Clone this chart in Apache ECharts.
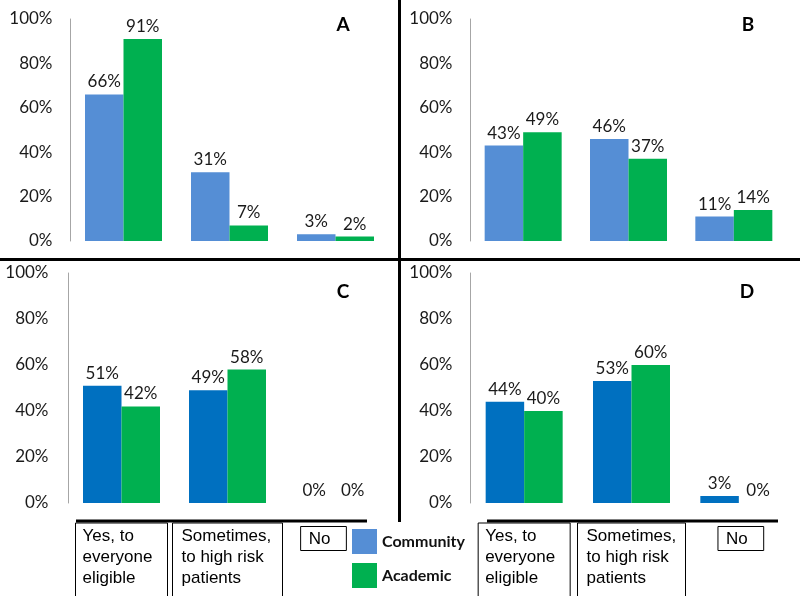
<!DOCTYPE html>
<html>
<head>
<meta charset="utf-8">
<script src="https://cdn.jsdelivr.net/npm/echarts@6/dist/echarts.min.js"></script>
<style>
html,body{margin:0;padding:0;background:#fff;}
#chart{width:800px;height:596px;}
</style>
</head>
<body>
<div id="chart"></div>
<script>
// ---- data ----
const categories = ['Yes, to\neveryone\neligible', 'Sometimes,\nto high risk\npatients', 'No'];
const seriesNames = ['Community', 'Academic'];
const yTicks = [0, 20, 40, 60, 80, 100];
const panelLetters = ['A', 'B', 'C', 'D'];
const communityA = [66, 31, 3];
const academicA = [91, 7, 2];
const communityB = [43, 46, 11];
const academicB = [49, 37, 14];
const communityC = [51, 49, 0];
const academicC = [42, 58, 0];
const communityD = [44, 53, 3];
const academicD = [40, 60, 0];

// ---- styling ----
const LIGHT_BLUE = '#558ED5', DARK_BLUE = '#0070C0', GREEN = '#00B050';
const FONT = 'Lato';
const panels = [
  {grid: {left: 70.5, top: 19, width: 318, height: 222}, c: communityA, a: academicA, blue: LIGHT_BLUE, labels: false},
  {grid: {left: 470.5, top: 19, width: 316, height: 222}, c: communityB, a: academicB, blue: LIGHT_BLUE, labels: false},
  {grid: {left: 68.5, top: 273, width: 318, height: 230}, c: communityC, a: academicC, blue: DARK_BLUE, labels: true,
   boxes: [{w: 92, pl: 7}, {w: 110, pl: 9}, {shift: -10}]},
  {grid: {left: 470.5, top: 273, width: 322, height: 230}, c: communityD, a: academicD, blue: DARK_BLUE, labels: true,
   boxes: [{w: 92, pl: 7}, {w: 108, pl: 9}, {shift: 2}]}
];

function catData(p) {
  return categories.map((cat, i) => {
    if (!p.labels) return cat;
    const b = p.boxes[i];
    if (cat.indexOf('\n') < 0) {
      // single-line: box drawn by rich token, outer box invisible
      return {value: cat, textStyle: {padding: [5, Math.max(0, -2 * b.shift), 0, Math.max(0, 2 * b.shift)]}};
    }
    return {value: cat, textStyle: {
      width: b.w - b.pl - 6,
      padding: [3, 6, 14, b.pl],
      borderColor: '#000', borderWidth: 1
    }};
  });
}

const grids = [], xAxes = [], yAxes = [], series = [];
panels.forEach((p, k) => {
  grids.push(Object.assign({outerBoundsMode: 'none', containLabel: false}, p.grid));
  xAxes.push({
    type: 'category', gridIndex: k, data: catData(p),
    offset: 18,
    axisLine: {show: false}, axisTick: {show: false},
    axisLabel: {
      show: p.labels, interval: 0, margin: 2,
      formatter: function (v) {
        if (v.indexOf('\n') < 0) return '{no|' + v + '}';
        return v.split('\n').map(l => '{t|' + l + '}').join('\n');
      },
      rich: {
        t: {fontFamily: 'Liberation Sans', fontSize: 17, lineHeight: 21, align: 'left', color: '#000'},
        no: {fontFamily: 'Liberation Sans', fontSize: 17, lineHeight: 21, align: 'left', color: '#000',
             borderColor: '#000', borderWidth: 1, padding: [4, 16, 3, 8]}
      }
    }
  });
  yAxes.push({
    type: 'value', gridIndex: k, min: yTicks[0], max: yTicks[yTicks.length - 1], interval: yTicks[1] - yTicks[0],
    axisLine: {show: true, lineStyle: {color: '#A6A6A6', width: 1}},
    axisTick: {show: false}, splitLine: {show: false},
    axisLabel: {formatter: '{value}%', fontFamily: FONT, fontSize: 17, color: '#1a1a1a', margin: k === 2 ? 20 : 18}
  });
  const lbl = {show: true, position: 'top', distance: 4, formatter: '{c}%', fontFamily: FONT, fontSize: 17, color: '#1a1a1a'};
  series.push({name: seriesNames[0], type: 'bar', xAxisIndex: k, yAxisIndex: k, data: p.c, barWidth: 38.5, barGap: '0%',
    itemStyle: {color: p.blue}, label: lbl});
  series.push({name: seriesNames[1], type: 'bar', xAxisIndex: k, yAxisIndex: k, data: p.a, barWidth: 38.5, barGap: '0%',
    itemStyle: {color: GREEN}, label: lbl});
});

const letterPos = [[343, 25], [748, 25], [343, 292], [747, 292]];
const graphics = [
  {type: 'line', shape: {x1: 0, y1: 259.5, x2: 800, y2: 259.5}, style: {stroke: '#000', lineWidth: 3}},
  {type: 'line', shape: {x1: 399.5, y1: 0, x2: 399.5, y2: 522}, style: {stroke: '#000', lineWidth: 3}},
  {type: 'line', shape: {x1: 76, y1: 521, x2: 367, y2: 521}, style: {stroke: '#000', lineWidth: 3}},
  {type: 'line', shape: {x1: 487, y1: 521, x2: 778, y2: 521}, style: {stroke: '#000', lineWidth: 3}}
];
panelLetters.forEach((t, i) => {
  graphics.push({type: 'text', x: letterPos[i][0], y: letterPos[i][1],
    style: {text: t, align: 'center', verticalAlign: 'middle', font: 'bold 19px ' + FONT, fill: '#000'}});
});

const chart = echarts.init(document.getElementById('chart'), null, {renderer: 'canvas'});
chart.setOption({
  animation: false,
  backgroundColor: '#fff',
  grid: grids, xAxis: xAxes, yAxis: yAxes, series: series,
  legend: {
    orient: 'vertical', left: 352, top: 529, padding: 0, itemWidth: 25, itemHeight: 25, itemGap: 9,
    icon: 'rect', selectedMode: false,
    data: [{name: seriesNames[0], itemStyle: {color: LIGHT_BLUE}}, {name: seriesNames[1], itemStyle: {color: GREEN}}],
    textStyle: {fontFamily: FONT, fontWeight: 'bold', fontSize: 16, color: '#111'}
  },
  graphic: graphics
});
</script>
</body>
</html>
